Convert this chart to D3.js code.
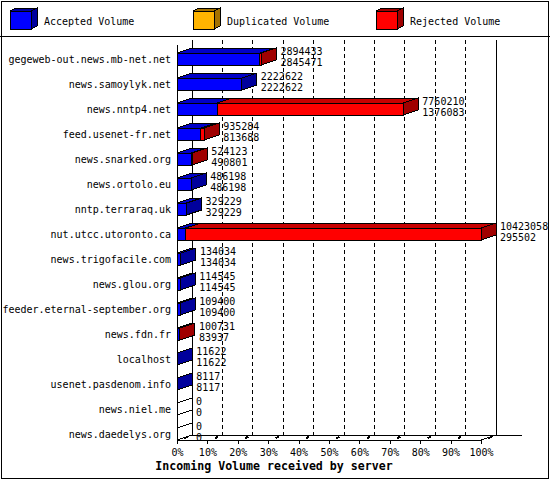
<!DOCTYPE html>
<html lang="en">
<head>
<meta charset="UTF-8">
<title>Incoming Volume</title>
<script src="https://d3js.org/d3.v7.min.js"></script>
<style>
    body { margin: 0; background: #fff; }
    svg { shape-rendering: crispEdges; }
    text { font-family: "DejaVu Sans Mono", "Liberation Mono", monospace; font-size: 10px; fill: #000; }
    .title { font-weight: bold; font-size: 11.6px; }
    .edge { stroke: #000; stroke-width: 1; }
    line.edge, rect.frame { fill: none; }
    .grid { fill: none; stroke: #000; stroke-dasharray: 4,3; }
</style>
</head>
<body>
<script>
    // data
    var servers = ["gegeweb-out.news.mb-net.net", "news.samoylyk.net", "news.nntp4.net",
        "feed.usenet-fr.net", "news.snarked.org", "news.ortolo.eu", "nntp.terraraq.uk",
        "nut.utcc.utoronto.ca", "news.trigofacile.com", "news.glou.org",
        "feeder.eternal-september.org", "news.fdn.fr", "localhost", "usenet.pasdenom.info",
        "news.niel.me", "news.daedelys.org"];
    var offered = [2894433, 2222622, 7760210, 935284, 524123, 486198, 329229, 10423058,
        134034, 114545, 109400, 100731, 11622, 8117, 0, 0];
    var accepted = [2845471, 2222622, 1376083, 813688, 490801, 486198, 329229, 295502,
        134034, 114545, 109400, 83937, 11622, 8117, 0, 0];
    var duplicated = [0, 0, 0, 0, 0, 0, 0, 0, 0, 0, 0, 0, 0, 0, 0, 0];
    var percentTicks = [0, 10, 20, 30, 40, 50, 60, 70, 80, 90, 100];
    var legendNames = ["Accepted Volume", "Duplicated Volume", "Rejected Volume"];

    var colors = [
        { front: "#0000ff", top: "#0000c8", side: "#00009c" },
        { front: "#ffb400", top: "#d09200", side: "#a47200" },
        { front: "#ff0000", top: "#c80000", side: "#a00000" }
    ];

    var W = 550, H = 480;
    var dx = 15, dy = -5;      // depth of the 3d effect
    var barH = 12;

    var svg = d3.select("body").append("svg").attr("width", W).attr("height", H);
    svg.append("rect").attr("x", 0).attr("y", 0).attr("width", W).attr("height", H).attr("fill", "#fff");
    svg.append("rect").attr("class", "edge frame").attr("x", 1).attr("y", 1)
        .attr("width", W - 3).attr("height", H - 3);
    svg.append("line").attr("class", "edge").attr("x1", 0).attr("x2", W).attr("y1", 36.5).attr("y2", 36.5);

    // legend cubes
    var leg = svg.append("g").selectAll("g").data(legendNames).enter().append("g")
        .attr("transform", function(d, i) { return "translate(" + (10 + i * 183) + ",0)"; });
    leg.each(function(d, i) {
        var g = d3.select(this), c = colors[i], w = 21, h = 18, y0 = 11, ox = 6, oy = -3;
        g.append("polygon").attr("class", "edge").attr("fill", c.side)
            .attr("points", [[w, y0], [w + ox, y0 + oy], [w + ox, y0 + h + oy], [w, y0 + h]].join(" "));
        g.append("polygon").attr("class", "edge").attr("fill", c.side)
            .attr("points", [[0, y0], [ox, y0 + oy], [w + ox, y0 + oy], [w, y0]].join(" "));
        g.append("rect").attr("class", "edge").attr("fill", c.front)
            .attr("x", 0).attr("y", y0).attr("width", w).attr("height", h);
        g.append("text").attr("x", 34).attr("y", 24.5).text(d);
    });

    // scales
    var maxVal = d3.max(offered);
    var x = d3.scaleLinear().domain([0, 100]).range([177, 481]);
    var xv = function(v) { return x(v / maxVal * 100); };
    var y = d3.scalePoint().domain(servers).range([59, 434]);

    var x0 = x(0), x1 = x(100);
    var frontTop = 45, frontBot = 440;
    var backTop = frontTop + dy, backBot = frontBot + dy;

    // back wall: dashed grid
    svg.append("g").selectAll("line").data(percentTicks.slice(1, -1)).enter().append("line")
        .attr("class", "grid")
        .attr("x1", function(d) { return x(d) + dx; }).attr("x2", function(d) { return x(d) + dx; })
        .attr("y1", backTop).attr("y2", backBot);

    var frame = svg.append("g");
    frame.append("line").attr("class", "edge").attr("x1", x0 + dx).attr("x2", x0 + dx)
        .attr("y1", backTop).attr("y2", backBot);
    frame.append("line").attr("class", "edge").attr("x1", x1 + dx).attr("x2", x1 + dx)
        .attr("y1", backTop).attr("y2", backBot);
    frame.append("line").attr("class", "edge").attr("x1", x0 + dx).attr("x2", x1 + dx + 26)
        .attr("y1", backBot).attr("y2", backBot);
    frame.append("line").attr("class", "edge").attr("x1", x1).attr("y1", frontBot)
        .attr("x2", x1 + dx).attr("y2", backBot);
    frame.append("line").attr("class", "edge").attr("x1", x0).attr("x2", x0)
        .attr("y1", frontTop).attr("y2", frontBot);

    // bars
    var rows = svg.append("g").selectAll("g").data(servers).enter().append("g");
    rows.each(function(name, i) {
        var g = d3.select(this);
        var cy = y(name), yt = cy - barH / 2, yb = cy + barH / 2;
        var a = accepted[i], d = duplicated[i], r = offered[i] - accepted[i] - duplicated[i];
        var segs = [[0, a, 0], [a, a + d, 1], [a + d, a + d + r, 2]].filter(function(s) { return s[1] > s[0]; });
        var xe = xv(offered[i]);

        if (segs.length === 0) {
            g.append("polygon").attr("class", "edge").attr("fill", "#fff")
                .attr("points", [[x0, yt], [x0 + dx, yt + dy], [x0 + dx, yb + dy], [x0, yb]].join(" "));
        }
        segs.forEach(function(s, k) {
            var c = colors[s[2]], xs = xv(s[0]), xf = xv(s[1]);
            g.append("polygon").attr("class", "edge").attr("fill", c.top)
                .attr("points", [[xs, yt], [xs + dx, yt + dy], [xf + dx, yt + dy], [xf, yt]].join(" "));
            g.append("rect").attr("class", "edge").attr("fill", c.front)
                .attr("x", xs).attr("y", yt).attr("width", xf - xs).attr("height", barH);
            if (k === segs.length - 1) {
                g.append("polygon").attr("class", "edge").attr("fill", c.side)
                    .attr("points", [[xf, yt], [xf + dx, yt + dy], [xf + dx, yb + dy], [xf, yb]].join(" "));
            }
        });

        var t = g.append("text").attr("x", xe + dx + 4);
        t.append("tspan").attr("x", xe + dx + 4).attr("y", cy - 4.5).text(offered[i]);
        t.append("tspan").attr("x", xe + dx + 4).attr("y", cy + 6.5).text(accepted[i]);
    });

    // category axis
    var yAxis = svg.append("g").attr("transform", "translate(" + x0 + ",0)")
        .call(d3.axisLeft(y).tickSize(0).tickPadding(6));
    yAxis.select(".domain").remove();
    yAxis.selectAll("text").attr("font-family", null).attr("font-size", null).attr("dy", "0.38em");

    // percent axis on the front floor edge
    var xAxis = svg.append("g").attr("transform", "translate(0," + frontBot + ")")
        .call(d3.axisBottom(x).tickValues(percentTicks).tickSizeInner(4).tickSizeOuter(0)
            .tickPadding(5).tickFormat(function(d) { return d + "%"; }));
    xAxis.select(".domain").attr("stroke", "#000");
    xAxis.selectAll("line").attr("stroke", "#000");
    xAxis.selectAll("text").attr("font-family", null).attr("font-size", null);
    xAxis.selectAll(".tick").append("line")
        .attr("x1", 7).attr("y1", -1.5).attr("x2", 10).attr("y2", -3.5)
        .attr("stroke", "#000").attr("stroke-width", 2);

    svg.append("text").attr("class", "title").attr("x", 274).attr("y", 470)
        .attr("text-anchor", "middle").text("Incoming Volume received by server");
</script>
</body>
</html>
